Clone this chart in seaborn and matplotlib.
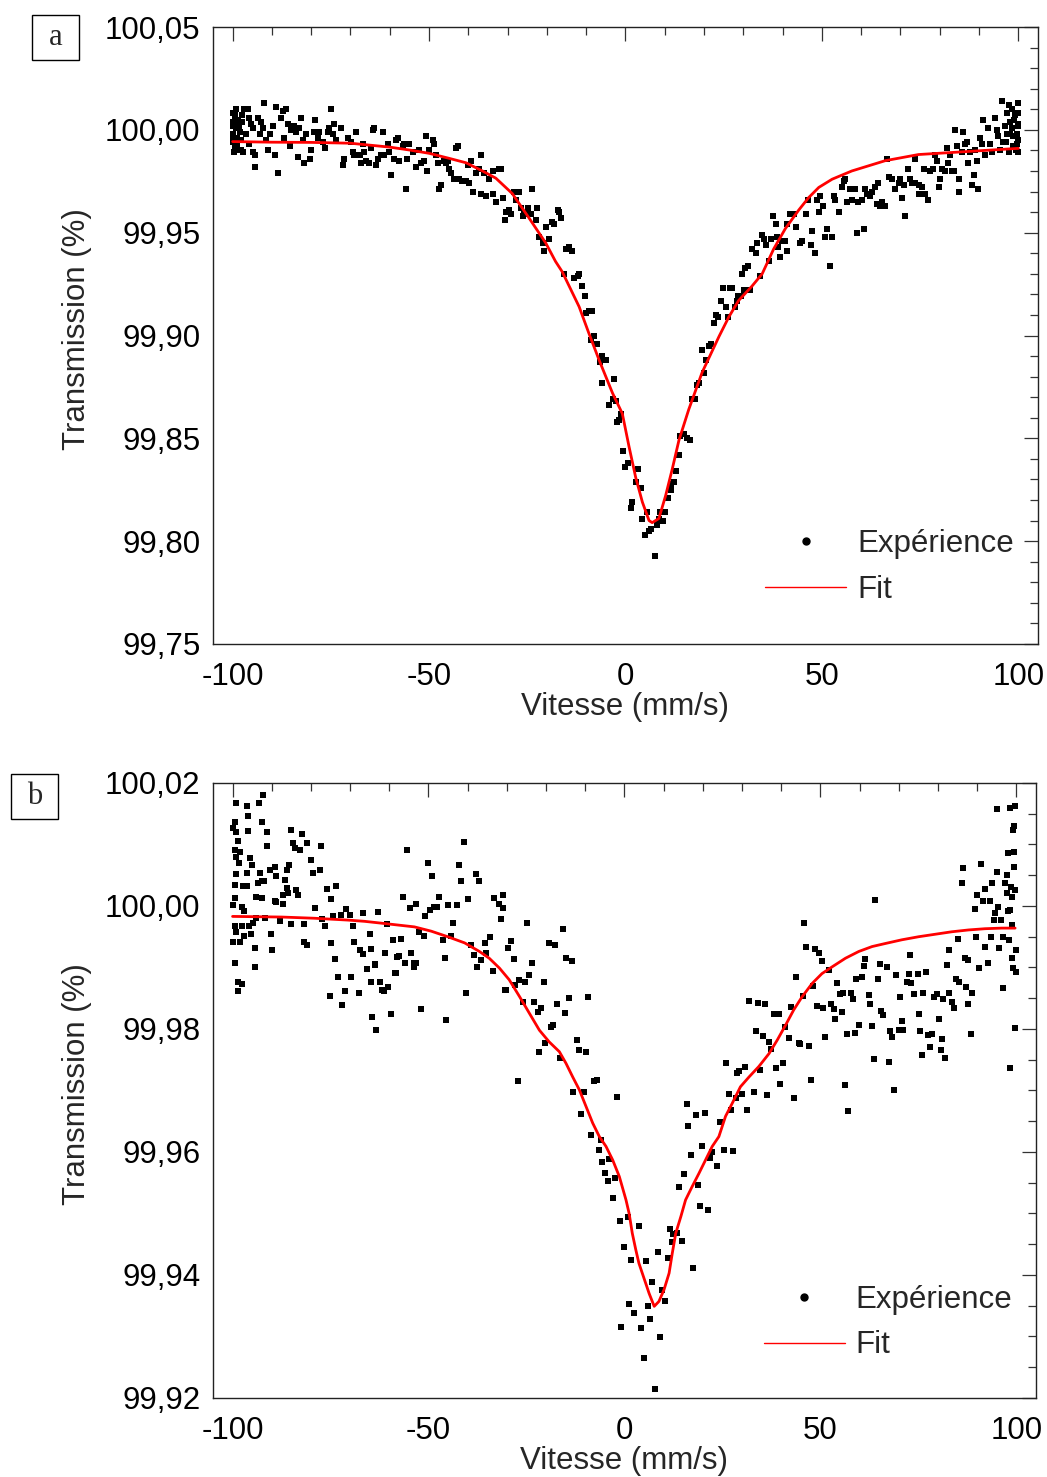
import numpy as np
import pandas as pd
import matplotlib
matplotlib.use("Agg")
import matplotlib.pyplot as plt
import seaborn as sns
from matplotlib.ticker import MultipleLocator, FuncFormatter
from matplotlib.lines import Line2D
from matplotlib.patches import Rectangle

# %% data, (vitesse mm/s, transmission %)

# panel a - experimental points
pts_a_left = [
    (-100.0, 100.008), (-99.5, 100.006), (-99.1, 100.010), (-98.7, 100.005), (-99.9, 100.002),
    (-99.2, 100.001), (-98.2, 99.999), (-99.9, 99.998), (-98.9, 99.996), (-97.8, 99.995),
    (-99.9, 99.994), (-99.1, 99.992), (-98.2, 99.990), (-99.5, 99.991), (-97.4, 99.989),
    (-98.4, 100.001), (-97.5, 100.004), (-97.0, 100.010), (-96.1, 100.010), (-96.5, 99.998),
    (-95.7, 100.006), (-95.3, 100.003), (-94.8, 100.001), (-95.7, 99.993), (-94.8, 99.989),
    (-94.4, 99.988), (-94.4, 99.982), (-93.6, 100.006), (-92.7, 100.004), (-93.1, 99.998),
    (-92.3, 100.001), (-91.9, 100.013), (-91.5, 99.995), (-91.0, 99.990), (-90.6, 99.998),
    (-89.8, 100.002), (-89.3, 99.988), (-88.9, 100.011), (-88.5, 99.979), (-87.6, 100.006),
    (-87.2, 100.009), (-86.8, 99.996), (-86.4, 100.010), (-85.9, 100.003), (-85.5, 99.992),
    (-85.1, 100.000), (-84.3, 100.002), (-83.8, 99.999), (-83.4, 99.987), (-83.0, 100.001),
    (-82.6, 100.006), (-82.1, 99.995), (-81.7, 99.984), (-81.3, 99.998), (-80.4, 99.986),
    (-80.0, 99.990), (-79.2, 99.999), (-78.9, 100.005), (-78.3, 99.996), (-77.9, 99.999),
    (-77.0, 99.994), (-76.6, 99.991), (-75.8, 99.999), (-75.4, 100.001), (-74.9, 100.010),
    (-74.5, 99.998), (-74.1, 100.003), (-73.7, 99.995), (-72.4, 100.001), (-72.0, 99.983),
    (-71.6, 99.986), (-70.7, 99.996), (-69.9, 99.994), (-69.4, 99.989), (-69.0, 99.988),
    (-68.6, 99.999), (-67.7, 99.988), (-67.3, 99.984), (-66.9, 99.993), (-66.5, 99.989),
    (-66.0, 99.985), (-65.2, 99.984), (-64.8, 99.991), (-64.3, 100.000), (-63.9, 100.001),
    (-63.5, 99.983), (-63.1, 99.986), (-62.2, 99.988), (-61.8, 99.999), (-61.4, 99.988),
    (-60.5, 99.993), (-60.1, 99.989), (-59.7, 99.978), (-58.8, 99.986), (-58.4, 99.995),
    (-58.0, 99.996), (-57.6, 99.985), (-56.7, 99.992), (-56.3, 99.993), (-55.9, 99.971),
    (-55.5, 99.986), (-55.0, 99.993), (-54.2, 99.989), (-53.3, 99.982), (-52.5, 99.990),
    (-52.1, 99.984), (-51.2, 99.985), (-50.8, 99.997), (-50.4, 99.980), (-49.9, 99.990),
    (-49.1, 99.995), (-48.7, 99.993), (-48.3, 99.988), (-47.8, 99.984), (-47.4, 99.971),
    (-47.0, 99.973), (-46.1, 99.985), (-45.7, 99.984), (-45.3, 99.985), (-44.9, 99.981),
    (-44.4, 99.979), (-43.6, 99.976), (-43.2, 99.991), (-42.7, 99.992), (-42.3, 99.976),
    (-41.5, 99.975), (-40.6, 99.975), (-40.2, 99.983), (-39.8, 99.974), (-39.4, 99.985),
    (-38.9, 99.970), (-38.1, 99.979),
    (-100.0, 99.996), (-100.0, 100.004), (-99.6, 99.989), (-99.3, 100.008), (-98.8, 99.993),
    (-98.5, 100.003), (-97.9, 99.990), (-97.7, 100.007),
]

pts_a_mid = [
    (-36.8, 99.988), (-37.2, 99.981), (-36.0, 99.979), (-34.7, 99.976), (-33.8, 99.980),
    (-32.2, 99.981), (-31.7, 99.981), (-36.8, 99.969), (-35.5, 99.968), (-33.7, 99.969),
    (-33.0, 99.965), (-31.3, 99.967), (-30.5, 99.960), (-30.6, 99.956), (-29.6, 99.961),
    (-29.2, 99.959), (-28.3, 99.970), (-27.2, 99.970), (-27.9, 99.966), (-26.6, 99.962),
    (-26.2, 99.958), (-25.8, 99.959), (-24.9, 99.962), (-24.5, 99.959), (-24.1, 99.959),
    (-23.7, 99.971), (-22.8, 99.956), (-22.4, 99.962), (-22.0, 99.948), (-21.1, 99.945),
    (-20.7, 99.941), (-20.3, 99.953), (-19.4, 99.947), (-18.6, 99.955), (-18.2, 99.954),
    (-17.3, 99.961), (-16.9, 99.960), (-16.5, 99.957), (-15.6, 99.930), (-15.2, 99.942),
    (-14.4, 99.943), (-13.5, 99.941), (-13.1, 99.928), (-12.2, 99.929), (-11.8, 99.930),
    (-11.0, 99.924), (-10.3, 99.919), (-10.1, 99.911), (-9.3, 99.912), (-8.4, 99.912),
    (-8.9, 99.898), (-8.0, 99.900), (-7.2, 99.896), (-6.6, 99.887), (-5.9, 99.890),
    (-5.0, 99.888), (-6.1, 99.877), (-4.2, 99.866), (-3.3, 99.869), (-2.9, 99.879),
    (-2.5, 99.868), (-2.1, 99.858), (-1.6, 99.859), (-1.2, 99.862), (-0.6, 99.844),
    (0.0, 99.836), (0.6, 99.838), (1.3, 99.816), (1.7, 99.819), (2.6, 99.829),
    (3.3, 99.835), (3.9, 99.826), (4.3, 99.811), (4.9, 99.803), (5.5, 99.814),
    (6.0, 99.805), (6.6, 99.806), (7.5, 99.793), (8.1, 99.808), (8.5, 99.811),
    (8.9, 99.814), (9.5, 99.810), (10.0, 99.814), (10.9, 99.821), (11.5, 99.825),
    (11.7, 99.828), (12.3, 99.829), (12.9, 99.834), (13.6, 99.842), (14.0, 99.851),
    (14.9, 99.852), (15.7, 99.850), (16.3, 99.849), (17.0, 99.869), (17.8, 99.869),
    (18.2, 99.876), (18.7, 99.877), (19.4, 99.893), (20.0, 99.882), (20.5, 99.888),
    (21.2, 99.895), (21.8, 99.896), (22.5, 99.906), (23.1, 99.910), (23.6, 99.909),
    (24.4, 99.917), (24.9, 99.923), (25.5, 99.914), (26.1, 99.909), (26.7, 99.923),
    (27.2, 99.923), (27.8, 99.914), (28.4, 99.917), (28.7, 99.919), (29.3, 99.919),
    (29.7, 99.930), (30.5, 99.933), (31.2, 99.934), (30.1, 99.922), (31.8, 99.922),
    (32.2, 99.942), (33.1, 99.940), (33.5, 99.945), (34.2, 99.929), (34.8, 99.949),
    (35.2, 99.947), (35.8, 99.944), (36.5, 99.936), (37.1, 99.947), (37.5, 99.958),
    (38.2, 99.954), (38.6, 99.948), (38.8, 99.943),
]

pts_a_right = [
    (39.4, 99.938), (39.9, 99.946), (40.5, 99.946), (41.1, 99.941), (41.1, 99.954),
    (42.0, 99.959), (42.8, 99.959), (43.4, 99.953), (44.5, 99.945), (44.9, 99.946),
    (46.0, 99.959), (46.5, 99.966), (47.1, 99.944), (47.5, 99.951), (48.3, 99.940),
    (48.7, 99.966), (49.6, 99.968), (49.2, 99.960), (50.4, 99.963), (51.3, 99.952),
    (50.9, 99.948), (52.6, 99.948), (52.0, 99.934), (53.0, 99.968), (53.4, 99.966),
    (54.3, 99.960), (55.1, 99.972), (55.5, 99.975), (56.0, 99.976), (56.4, 99.965),
    (57.2, 99.971), (57.6, 99.966), (58.5, 99.971), (58.9, 99.950), (59.3, 99.965),
    (60.2, 99.966), (60.6, 99.952), (61.0, 99.971), (61.5, 99.969), (62.3, 99.968),
    (62.7, 99.970), (63.6, 99.972), (64.0, 99.964), (64.4, 99.974), (64.8, 99.963),
    (65.3, 99.965), (66.1, 99.963), (66.5, 99.986), (67.0, 99.977), (67.8, 99.976),
    (68.7, 99.971), (69.5, 99.974), (69.9, 99.976), (70.3, 99.967), (70.8, 99.973),
    (71.2, 99.958), (72.0, 99.981), (72.5, 99.976), (72.9, 99.974), (73.7, 99.986),
    (73.7, 99.974), (74.6, 99.973), (74.6, 99.969), (75.4, 99.972), (75.9, 99.981),
    (76.3, 99.969), (77.1, 99.966), (77.5, 99.980), (78.4, 99.981), (78.8, 99.988),
    (79.2, 99.985), (79.7, 99.972), (80.1, 99.976), (80.5, 99.981), (81.4, 99.980),
    (81.8, 99.991), (82.2, 99.984), (82.6, 99.988), (83.1, 99.980), (83.5, 99.980),
    (83.9, 100.000), (84.3, 99.992), (84.8, 99.970), (84.9, 99.976), (85.6, 99.989),
    (86.0, 99.999), (86.5, 99.993), (86.9, 99.994), (87.3, 99.984), (87.7, 99.989),
    (88.1, 99.973), (88.6, 99.978), (89.0, 99.990), (89.4, 99.985), (89.8, 99.971),
    (90.3, 99.996), (90.7, 99.993), (91.1, 100.005), (91.5, 99.988), (92.4, 100.001),
    (92.8, 99.993), (93.2, 99.989), (94.1, 100.006), (94.5, 100.000), (94.9, 99.997),
    (95.3, 99.990), (95.8, 100.014), (96.2, 99.994), (96.6, 100.002), (97.0, 99.998),
    (97.5, 99.989), (97.6, 100.012), (97.9, 100.004), (98.3, 100.010), (98.7, 99.997),
    (99.2, 100.007), (99.6, 99.993), (100.0, 100.013), (100.0, 100.002), (100.0, 99.989),
    (99.6, 99.998), (98.7, 99.992), (97.9, 99.998),
    (100.0, 100.008), (100.0, 99.995), (99.8, 100.003), (99.4, 99.990), (98.9, 100.005),
    (98.5, 100.001), (97.2, 100.008), (96.8, 99.994),
]

# panel a - fit
fit_a = [
    (-100.0, 99.9943), (-90.0, 99.9940), (-80.0, 99.9939), (-70.0, 99.9935), (-60.0, 99.9916),
    (-55.0, 99.9902), (-50.0, 99.9886), (-45.0, 99.9862), (-40.6, 99.9840), (-36.4, 99.9800),
    (-33.0, 99.9765), (-28.8, 99.9690), (-24.5, 99.9570), (-20.3, 99.9450), (-17.8, 99.9360),
    (-16.1, 99.9310), (-11.8, 99.9140), (-9.3, 99.9010), (-6.7, 99.8880), (-3.3, 99.8720),
    (-0.8, 99.8620), (0.9, 99.8460), (2.6, 99.8310), (4.3, 99.8190), (6.0, 99.8100),
    (6.8, 99.8090), (8.5, 99.8110), (10.2, 99.8220), (11.9, 99.8350), (13.6, 99.8490),
    (16.1, 99.8640), (19.5, 99.8820), (23.8, 99.8995), (26.3, 99.9090), (28.8, 99.9170),
    (32.2, 99.9240), (34.8, 99.9300), (37.7, 99.9420), (40.7, 99.9520), (44.1, 99.9610),
    (46.6, 99.9670), (49.2, 99.9720), (52.6, 99.9760), (57.6, 99.9800), (66.1, 99.9850),
    (74.6, 99.9880), (83.1, 99.9890), (91.5, 99.9900), (100.0, 99.9910),
]

# panel b - experimental points
pts_b_left = [
    (-99.0, 100.0167), (-96.2, 100.0162), (-96.0, 100.0146), (-93.2, 100.0168), (-92.2, 100.0181),
    (-92.6, 100.0136), (-99.4, 100.0136), (-99.8, 100.0126), (-99.0, 100.0121), (-96.0, 100.0122),
    (-91.2, 100.0120), (-98.5, 100.0105), (-91.3, 100.0097), (-99.4, 100.0091), (-98.1, 100.0088),
    (-99.0, 100.0080), (-98.3, 100.0070), (-95.6, 100.0078), (-95.1, 100.0067), (-96.2, 100.0054),
    (-99.0, 100.0052), (-99.4, 100.0034), (-97.3, 100.0033), (-96.4, 100.0033), (-93.0, 100.0054),
    (-92.6, 100.0040), (-93.4, 100.0037), (-92.0, 100.0040), (-90.5, 100.0059), (-89.2, 100.0064),
    (-88.8, 100.0048), (-86.2, 100.0059), (-85.6, 100.0067), (-86.7, 100.0042), (-86.2, 100.0029),
    (-85.8, 100.0021), (-87.1, 100.0018), (-83.7, 100.0026), (-83.3, 100.0018), (-93.9, 100.0014),
    (-92.6, 100.0013), (-89.2, 100.0008), (-88.8, 100.0007), (-87.1, 100.0004), (-99.4, 100.0013),
    (-99.8, 100.0002), (-97.7, 99.9999), (-97.0, 99.9992), (-93.9, 99.9980), (-91.8, 99.9980),
    (-87.9, 99.9975), (-85.1, 99.9971), (-81.7, 99.9971), (-79.0, 99.9996), (-77.1, 99.9978),
    (-76.5, 99.9967), (-74.4, 99.9983), (-72.4, 99.9985), (-71.1, 99.9995), (-70.1, 99.9985),
    (-69.3, 99.9967), (-66.7, 99.9989), (-62.9, 99.9990), (-60.5, 99.9971), (-99.4, 99.9967),
    (-99.0, 99.9958), (-97.7, 99.9967), (-95.7, 99.9967), (-94.7, 99.9973), (-95.3, 99.9955),
    (-97.0, 99.9951), (-99.8, 99.9942), (-98.1, 99.9942), (-90.2, 99.9954), (-81.7, 99.9942),
    (-80.9, 99.9937), (-75.0, 99.9939), (-73.9, 99.9913), (-68.9, 99.9942), (-67.6, 99.9929),
    (-66.7, 99.9922), (-65.0, 99.9954), (-64.6, 99.9930), (-63.6, 99.9904), (-61.0, 99.9923),
    (-59.1, 99.9945), (-58.6, 99.9891), (-57.4, 99.9918), (-57.0, 99.9947), (-56.1, 99.9907),
    (-54.4, 99.9923), (-53.6, 99.9907), (-52.4, 99.9958), (-51.2, 99.9951), (-49.7, 99.9994),
    (-48.6, 99.9999), (-47.8, 99.9999), (-47.2, 100.0015), (-45.1, 100.0002), (-44.2, 99.9951),
    (-43.8, 99.9972), (-42.7, 100.0002), (-41.7, 100.0040), (-40.0, 100.0011), (-37.9, 100.0052),
    (-37.0, 100.0040), (-51.0, 99.9983), (-50.2, 100.0070), (-49.1, 100.0049), (-42.1, 100.0067),
    (-41.0, 100.0104), (-55.4, 100.0091), (-56.5, 100.0015), (-54.7, 99.9996), (-53.3, 100.0004),
    (-46.3, 99.9945), (-45.9, 99.9915), (-39.1, 99.9937), (-38.3, 99.9920), (-37.6, 99.9900),
    (-36.6, 99.9912), (-35.7, 99.9939), (-35.3, 99.9924), (-34.2, 99.9949), (-33.6, 99.9895),
    (-33.2, 100.0013), (-31.9, 100.0004), (-31.1, 99.9996), (-31.6, 99.9978), (-31.1, 100.0018),
    (-30.6, 99.9864), (-99.4, 99.9907), (-98.5, 99.9877), (-97.7, 99.9873), (-98.7, 99.9861),
    (-94.3, 99.9931), (-94.3, 99.9901), (-89.9, 99.9928), (-73.1, 99.9885), (-71.4, 99.9862),
    (-75.2, 99.9854), (-72.0, 99.9839), (-69.7, 99.9884), (-67.8, 99.9859), (-65.6, 99.9897),
    (-64.6, 99.9876), (-63.6, 99.9905), (-62.5, 99.9876), (-61.8, 99.9864), (-61.4, 99.9861),
    (-60.3, 99.9869), (-58.2, 99.9891), (-64.3, 99.9819), (-63.3, 99.9799), (-59.5, 99.9824),
    (-51.8, 99.9832), (-45.5, 99.9815), (-40.4, 99.9858), (-58.0, 99.9917), (-53.7, 99.9900),
    (-53.1, 99.9907), (-85.1, 100.0124), (-84.5, 100.0103), (-84.1, 100.0095), (-82.8, 100.0091),
    (-82.2, 100.0117), (-81.1, 100.0102), (-79.9, 100.0075), (-79.4, 100.0053), (-77.7, 100.0059),
    (-77.5, 100.0098), (-75.8, 100.0027), (-74.8, 100.0011), (-73.5, 100.0032),
]

pts_b_mid = [
    (-29.8, 99.9931), (-28.9, 99.9943), (-28.3, 99.9913), (-30.2, 99.9863), (-27.8, 99.9871),
    (-26.8, 99.9880), (-25.5, 99.9877), (-24.3, 99.9888), (-24.9, 99.9972), (-23.7, 99.9907),
    (-20.4, 99.9877), (-26.0, 99.9844), (-23.0, 99.9844), (-22.1, 99.9828), (-21.3, 99.9834),
    (-21.9, 99.9763), (-20.2, 99.9777), (-19.3, 99.9939), (-17.6, 99.9937), (-15.8, 99.9962),
    (-14.8, 99.9915), (-13.4, 99.9910), (-17.1, 99.9841), (-18.7, 99.9804), (-18.3, 99.9807),
    (-15.1, 99.9826), (-14.1, 99.9850), (-9.2, 99.9852), (-12.1, 99.9782), (-11.5, 99.9766),
    (-9.8, 99.9763), (-16.5, 99.9752), (-27.1, 99.9716), (-13.1, 99.9697), (-10.3, 99.9698),
    (-11.1, 99.9662), (-7.7, 99.9716), (-7.1, 99.9717), (-2.0, 99.9690), (-8.6, 99.9627),
    (-6.0, 99.9620), (-6.6, 99.9604), (-5.6, 99.9584), (-4.9, 99.9565), (-3.9, 99.9588),
    (-4.3, 99.9553), (-2.4, 99.9557), (-3.0, 99.9525), (-1.2, 99.9488), (0.8, 99.9495),
    (3.6, 99.9479), (-0.1, 99.9446), (1.8, 99.9424), (5.6, 99.9423), (8.6, 99.9437),
    (11.0, 99.9427), (11.6, 99.9475), (12.4, 99.9467), (13.5, 99.9469), (12.2, 99.9453),
    (14.6, 99.9456), (7.1, 99.9388), (9.7, 99.9376), (10.4, 99.9357), (1.2, 99.9352),
    (2.5, 99.9338), (6.1, 99.9350), (-0.8, 99.9316), (4.3, 99.9313), (6.5, 99.9329),
    (9.1, 99.9299), (4.9, 99.9265), (7.8, 99.9215), (17.6, 99.9412), (13.9, 99.9543),
    (15.2, 99.9564), (16.9, 99.9595), (18.8, 99.9546), (19.3, 99.9512), (21.3, 99.9506),
    (15.9, 99.9678), (16.3, 99.9642), (18.3, 99.9660), (19.9, 99.9609), (20.6, 99.9663),
    (21.8, 99.9591), (22.4, 99.9600), (23.7, 99.9578), (24.3, 99.9648), (25.4, 99.9604),
    (26.7, 99.9694), (26.0, 99.9744), (27.7, 99.9602), (27.3, 99.9669), (28.4, 99.9687),
    (28.8, 99.9728),
]

pts_b_right = [
    (29.2, 99.9731), (30.1, 99.9695), (30.7, 99.9738), (31.3, 99.9669), (31.9, 99.9845),
    (33.0, 99.9698), (33.6, 99.9797), (34.1, 99.9843), (34.7, 99.9733), (35.3, 99.9789),
    (35.8, 99.9840), (36.4, 99.9692), (37.0, 99.9779), (37.5, 99.9767), (38.1, 99.9825),
    (38.7, 99.9737), (39.4, 99.9825), (39.8, 99.9710), (40.4, 99.9745), (41.1, 99.9804),
    (41.9, 99.9785), (42.4, 99.9835), (43.2, 99.9687), (43.8, 99.9885), (44.5, 99.9777),
    (44.9, 99.9775), (45.8, 99.9973), (45.5, 99.9854), (46.4, 99.9933), (47.0, 99.9773),
    (47.5, 99.9717), (48.1, 99.9870), (48.6, 99.9930), (49.2, 99.9838), (49.6, 99.9923),
    (50.3, 99.9911), (50.6, 99.9834), (51.3, 99.9787), (52.1, 99.9896), (52.8, 99.9841),
    (53.4, 99.9833), (53.8, 99.9817), (54.3, 99.9875), (54.9, 99.9857), (55.5, 99.9828),
    (55.9, 99.9858), (56.4, 99.9709), (56.8, 99.9792), (57.1, 99.9666), (57.9, 99.9859),
    (58.3, 99.9849), (58.8, 99.9794), (59.1, 99.9882), (59.9, 99.9806), (60.5, 99.9885),
    (61.1, 99.9902), (61.5, 99.9913), (62.3, 99.9855), (62.7, 99.9841), (63.2, 99.9805),
    (63.6, 99.9751), (64.0, 100.0010), (64.7, 99.9882), (65.3, 99.9906), (65.5, 99.9830),
    (66.1, 99.9823), (67.0, 99.9901), (67.4, 99.9747), (67.8, 99.9796), (68.3, 99.9787),
    (68.8, 99.9700), (69.3, 99.9888), (70.0, 99.9798), (70.4, 99.9852), (70.8, 99.9813),
    (71.2, 99.9798), (72.1, 99.9877), (72.5, 99.9889), (72.9, 99.9920), (73.2, 99.9874),
    (73.8, 99.9857), (74.9, 99.9889), (75.2, 99.9825), (75.5, 99.9797), (75.9, 99.9758),
    (76.3, 99.9858), (77.0, 99.9892), (77.4, 99.9791), (78.0, 99.9771), (78.5, 99.9792),
    (79.1, 99.9852), (79.7, 99.9857), (80.3, 99.9817), (80.8, 99.9766), (81.0, 99.9783),
    (81.4, 99.9848), (81.8, 99.9752), (82.3, 99.9904), (82.7, 99.9859), (82.9, 99.9928),
    (83.5, 99.9844), (84.0, 99.9834), (84.6, 99.9882), (85.1, 99.9946), (85.4, 99.9877),
    (86.1, 100.0038), (86.5, 100.0061), (86.9, 99.9915), (87.1, 99.9868), (87.6, 99.9912),
    (87.8, 99.9841), (88.5, 99.9792), (88.8, 99.9859), (89.5, 99.9995), (89.7, 99.9950),
    (89.9, 100.0018), (90.5, 99.9899), (91.0, 100.0069), (91.6, 100.0008), (92.0, 100.0027),
    (92.0, 99.9934), (92.9, 99.9908), (93.3, 100.0008), (93.6, 99.9949), (93.9, 100.0038),
    (94.2, 99.9977), (94.6, 99.9989), (95.0, 100.0056), (95.3, 99.9999), (95.7, 99.9932),
    (96.1, 99.9977), (96.7, 99.9867), (96.7, 99.9950), (97.1, 100.0037), (97.5, 100.0050),
    (97.8, 100.0086), (98.0, 99.9992), (98.1, 99.9945), (98.4, 99.9993), (98.6, 100.0031),
    (98.8, 99.9915), (99.0, 99.9969), (99.2, 99.9899), (99.5, 100.0064), (99.5, 100.0087),
    (99.7, 100.0026), (99.7, 99.9801), (99.8, 99.9893), (99.9, 99.9928), (98.4, 99.9736),
    (99.0, 100.0015), (97.5, 100.0021),
    (95.2, 100.0158), (98.5, 100.0159), (99.7, 100.0163), (99.2, 100.0124), (99.4, 100.0130),
]

# panel b - fit
fit_b = [
    (-100.0, 99.9983), (-87.5, 99.9982), (-79.0, 99.9980), (-70.5, 99.9977), (-66.3, 99.9975),
    (-62.0, 99.9972), (-57.8, 99.9969), (-53.6, 99.9966), (-49.3, 99.9959), (-45.1, 99.9950),
    (-40.8, 99.9940), (-37.0, 99.9926), (-34.5, 99.9915), (-31.9, 99.9899), (-29.4, 99.9880),
    (-26.8, 99.9853), (-24.3, 99.9826), (-21.7, 99.9798), (-19.2, 99.9779), (-16.6, 99.9763),
    (-14.9, 99.9744), (-13.2, 99.9722), (-11.5, 99.9701), (-9.8, 99.9674), (-8.1, 99.9647),
    (-6.4, 99.9625), (-4.7, 99.9609), (-3.0, 99.9587), (-1.3, 99.9560), (0.4, 99.9522),
    (1.2, 99.9500), (2.0, 99.9468), (2.9, 99.9441), (3.7, 99.9419), (5.4, 99.9387),
    (6.3, 99.9370), (7.6, 99.9349), (8.8, 99.9357), (10.1, 99.9376), (11.4, 99.9403),
    (12.2, 99.9435), (13.1, 99.9468), (14.4, 99.9495), (15.6, 99.9522), (17.3, 99.9544),
    (19.0, 99.9565), (20.7, 99.9587), (22.4, 99.9609), (24.1, 99.9625), (25.8, 99.9658),
    (27.5, 99.9679), (29.6, 99.9706), (31.8, 99.9722), (34.3, 99.9739), (36.9, 99.9760),
    (39.0, 99.9782), (41.1, 99.9806), (43.2, 99.9831), (45.3, 99.9852), (47.9, 99.9874),
    (50.4, 99.9890), (53.0, 99.9901), (56.4, 99.9915), (59.8, 99.9926), (63.2, 99.9934),
    (66.6, 99.9939), (70.8, 99.9945), (75.1, 99.9950), (79.3, 99.9954), (83.5, 99.9958),
    (87.8, 99.9961), (92.0, 99.9963), (96.3, 99.9964), (99.7, 99.9964),
]

# %% helpers

def frame(*parts):
    rows = [p for part in parts for p in part]
    return pd.DataFrame(rows, columns=["vitesse", "transmission"])

comma_fmt = FuncFormatter(lambda v, pos: f"{v:.2f}".replace(".", ","))


def draw_panel(ax, pts, fit, ylim, ymajor, yminor, leg_y):
    sns.scatterplot(data=pts, x="vitesse", y="transmission", ax=ax,
                    color="black", marker="s", s=17, linewidth=0, legend=False)
    sns.lineplot(data=fit, x="vitesse", y="transmission", ax=ax,
                 color="red", lw=2.0, estimator=None, sort=False)

    ax.set_xlim(-105, 105)
    ax.set_ylim(*ylim)
    ax.xaxis.set_major_locator(MultipleLocator(50))
    ax.xaxis.set_minor_locator(MultipleLocator(10))
    ax.yaxis.set_major_locator(MultipleLocator(ymajor))
    ax.yaxis.set_minor_locator(MultipleLocator(yminor))
    ax.yaxis.set_major_formatter(comma_fmt)

    ax.tick_params(which="both", direction="in", top=True, right=True,
                   color="#333333", labelcolor="black", labelsize=22.5)
    ax.tick_params(axis="x", pad=13)
    ax.tick_params(axis="y", pad=9)
    ax.tick_params(which="major", length=10, width=0.9)
    ax.tick_params(which="minor", length=6, width=0.9)
    for s in ax.spines.values():
        s.set_linewidth(1.0)
        s.set_color("#222222")

    ax.set_xlabel("Vitesse (mm/s)", fontsize=22.5)
    ax.set_ylabel("Transmission (%)", fontsize=22.5)
    ax.xaxis.set_label_coords(0.5, -0.078)
    ax.yaxis.set_label_coords(-0.147, 0.511)

    handles = [Line2D([], [], ls="none", marker="o", color="black", markersize=5),
               Line2D([], [], color="red", lw=1.0)]
    ax.legend(handles, ["Expérience", "Fit"], loc="upper left",
              bbox_to_anchor=(0.669, leg_y), frameon=False, fontsize=22.5,
              handlelength=2.6, handletextpad=0.35, borderpad=0,
              borderaxespad=0, labelspacing=0.5)


# %% figure

sns.set_style("white")
plt.rcParams["font.family"] = ["Liberation Sans", "DejaVu Sans"]
plt.rcParams["axes.unicode_minus"] = False

fig = plt.figure(figsize=(10.47, 14.77), dpi=100)
ax_a = fig.add_axes([0.2034, 0.564, 0.788, 0.4177])
ax_b = fig.add_axes([0.2034, 0.0535, 0.786, 0.4164])

draw_panel(ax_a, frame(pts_a_left, pts_a_mid, pts_a_right), frame(fit_a),
           (99.75, 100.05), 0.05, 0.01, 0.186)
draw_panel(ax_b, frame(pts_b_left, pts_b_mid, pts_b_right), frame(fit_b),
           (99.92, 100.02), 0.02, 0.005, 0.184)

# panel letters in boxes
for label, (x0, y0) in {"a": (0.0306, 0.9594), "b": (0.0105, 0.4455)}.items():
    fig.add_artist(Rectangle((x0, y0), 0.0449, 0.0302, transform=fig.transFigure,
                             fill=False, lw=1.0, edgecolor="black"))
    fig.text(x0 + 0.0449 / 2, y0 + 0.0302 / 2, label, ha="center", va="center",
             fontsize=22, family=["Liberation Serif", "DejaVu Serif"])

fig.savefig("out.png", dpi=100)
